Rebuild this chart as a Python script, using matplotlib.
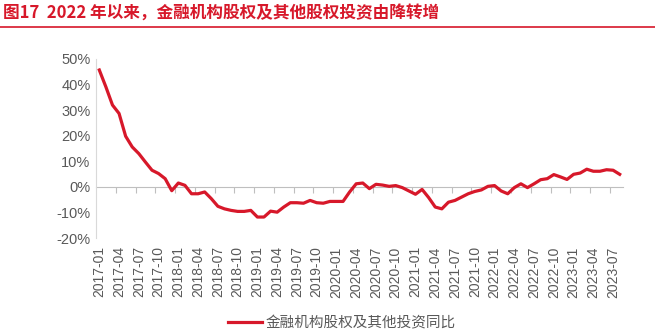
import matplotlib
matplotlib.use("Agg")
import matplotlib.pyplot as plt
from matplotlib.lines import Line2D
import pandas as pd

plt.rcParams['font.family'] = ['Liberation Sans', 'Noto Sans CJK SC', 'DejaVu Sans']

# monthly categories 2017-01 .. 2023-08
months = pd.period_range('2017-01', '2023-08', freq='M').strftime('%Y-%m').tolist()

# 金融机构股权及其他投资同比 (%)
yoy = [45.7, 39.1, 32.0, 28.7, 19.8, 15.6, 13.0, 9.7, 6.5, 5.2,
       3.2, -1.5, 1.5, 0.6, -2.7, -2.7, -2.0, -4.6, -7.6, -8.6,
       -9.2, -9.6, -9.6, -9.2, -11.8, -11.8, -9.5, -9.9, -7.9, -6.2,
       -6.2, -6.4, -5.3, -6.2, -6.4, -5.7, -5.7, -5.7, -2.0, 1.2,
       1.5, -0.7, 1.0, 0.7, 0.2, 0.5, -0.3, -1.6, -2.9, -1.0,
       -4.2, -7.9, -8.6, -6.0, -5.3, -4.0, -2.7, -1.8, -1.2, 0.2,
       0.5, -1.6, -2.7, -0.3, 1.2, -0.3, 1.2, 2.8, 3.2, 4.8,
       3.9, 2.9, 4.9, 5.4, 6.9, 6.1, 6.1, 6.7, 6.5, 4.9]

title = '图17  2022 年以来，金融机构股权及其他股权投资由降转增'
series_name = '金融机构股权及其他投资同比'

red = '#D7182A'
grey = '#595959'
cjk = ['Noto Sans CJK SC', 'DejaVu Sans']

fig = plt.figure(figsize=(6.55, 3.35), dpi=100)
ax = fig.add_axes([96 / 655, 97 / 335, 527 / 655, 179 / 335])

x = list(range(len(months)))
ax.plot(x, yoy, color=red, lw=2.3, solid_joinstyle='round', label=series_name)

ax.set_xlim(-0.5, len(months) - 0.5)
ax.set_ylim(-20, 50)
ax.set_yticks(range(-20, 51, 10))
ax.set_yticklabels([f'{v}%' for v in range(-20, 51, 10)])

# labels every 3 months at the bottom, no tick marks there
ax.set_xticks(x[::3])
ax.set_xticklabels(months[::3], rotation=90)
ax.tick_params(axis='x', length=0, pad=6, labelsize=10, labelcolor=grey)
ax.tick_params(axis='y', length=0, pad=4, labelsize=10.5, labelcolor=grey)

for s in ['top', 'right', 'bottom']:
    ax.spines[s].set_visible(False)
ax.spines['left'].set_color('#D9D9D9')

# zero line with tick marks between quarter groups
zero = ax.secondary_xaxis(20 / 70)
zero.set_xticks([i - 0.5 for i in x[3::3]])
zero.tick_params(axis='x', direction='out', length=4, color='#BFBFBF', labelbottom=False)
zero.spines['bottom'].set_color('#BFBFBF')

fig.text(0.004, 1 - 13 / 335, title, color=red, fontsize=12, fontweight='bold',
         family=cjk, va='center', ha='left')
fig.add_artist(Line2D([0, 1], [1 - 27 / 335, 1 - 27 / 335], color=red, lw=1.2,
                      transform=fig.transFigure))

leg = fig.legend(loc='center', bbox_to_anchor=(342 / 655, 1 - 323 / 335), frameon=False,
                 handlelength=2.3, handletextpad=0.3, prop={'family': cjk, 'size': 10.5})
for t in leg.get_texts():
    t.set_color(grey)

fig.savefig('out.png', dpi=100)
